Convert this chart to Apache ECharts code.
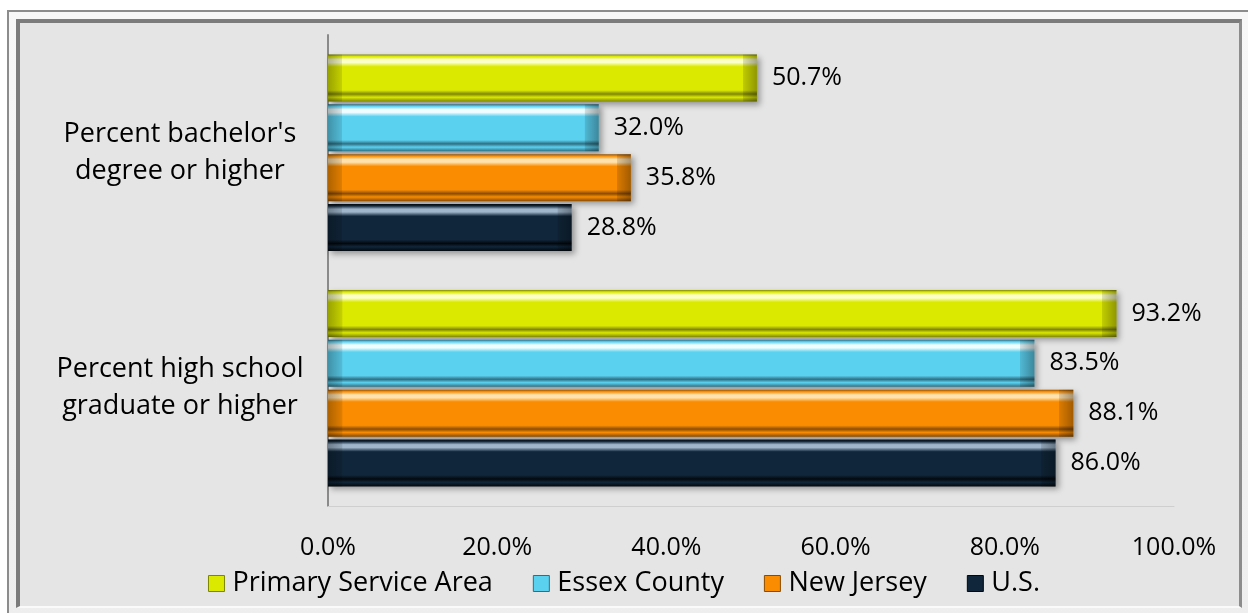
<!DOCTYPE html>
<html>
<head>
<meta charset="utf-8">
<script src="https://cdn.jsdelivr.net/npm/echarts@6/dist/echarts.min.js"></script>
<style>
  html, body { margin: 0; padding: 0; background: #fff; }
  .frameOuter {
    position: absolute; left: 7px; top: 10px; width: 1250px; height: 610px;
    box-sizing: border-box;
    border-left: 2px solid #8c8c8c; border-top: 2px solid #8c8c8c;
    background: linear-gradient(#f7f7f7, #eeeeee);
  }
  .frameInner {
    position: absolute; left: 16px; top: 19px; width: 1226px; height: 589px;
    box-sizing: border-box;
    border-left: 4px solid #7c7c7c; border-top: 4px solid #7c7c7c;
    border-right: 3px solid #8c8c8c; border-bottom: 2px solid #fafafa;
    background: #e5e5e5;
  }
  .chartContainer { position: absolute; left: 0; top: 0; width: 1248px; height: 613px; }
</style>
</head>
<body>
<div class="frameOuter"></div>
<div class="frameInner"></div>
<div class="chartContainer" id="educationChart"></div>
<script>
// categories bottom -> top (category axis runs upward)
const categories = [
  "Percent high school\ngraduate or higher",
  "Percent bachelor's\ndegree or higher",
];
const seriesNames = ["Primary Service Area", "Essex County", "New Jersey", "U.S."];
const primaryServiceArea = [93.2, 50.7];
const essexCounty = [83.5, 32.0];
const newJersey = [88.1, 35.8];
const unitedStates = [86.0, 28.8];
const xTicks = [0, 20, 40, 60, 80, 100];

const FONT = "Open Sans";
const GRID = { left: 328, right: 74, top: 35, bottom: 107 };
const plotWidth = 1248 - GRID.left - GRID.right;

// base, highlight, dark edge
const palette = [
  ["#dbe800", "#fbffc8", "#7f8700"],
  ["#5bd1f0", "#effdff", "#2f6f82"],
  ["#f98c00", "#ffe2b0", "#8a4c00"],
  ["#10263a", "#9fb6cb", "#03080d"],
];

function bevel(c) {
  return new echarts.graphic.LinearGradient(0, 0, 0, 1, [
    { offset: 0, color: c[2] },
    { offset: 0.04, color: c[0] },
    { offset: 0.11, color: c[1] },
    { offset: 0.17, color: c[1] },
    { offset: 0.26, color: c[0] },
    { offset: 0.76, color: c[0] },
    { offset: 0.84, color: c[2] },
    { offset: 0.91, color: c[0] },
    { offset: 1, color: c[2] },
  ]);
}

// darkened bevel at both ends of a bar, ~14px wide
function endShade(v) {
  let e = Math.min(0.45, 14 / ((v / 100) * plotWidth));
  return new echarts.graphic.LinearGradient(0, 0, 1, 0, [
    { offset: 0, color: "rgba(0,0,0,0.30)" },
    { offset: e, color: "rgba(0,0,0,0.10)" },
    { offset: e + 0.001, color: "rgba(0,0,0,0)" },
    { offset: 1 - e - 0.001, color: "rgba(0,0,0,0)" },
    { offset: 1 - e, color: "rgba(0,0,0,0.12)" },
    { offset: 1, color: "rgba(0,0,0,0.35)" },
  ]);
}

const dataSets = [primaryServiceArea, essexCounty, newJersey, unitedStates];

const mainSeries = dataSets.map((d, i) => ({
  name: seriesNames[i],
  type: "bar",
  data: d,
  barWidth: 47,
  barGap: "6%",
  itemStyle: {
    color: bevel(palette[i]),
    shadowColor: "rgba(0,0,0,0.35)",
    shadowBlur: 6,
    shadowOffsetX: 3,
    shadowOffsetY: 3,
  },
  label: {
    show: true,
    position: "right",
    distance: 15,
    color: "#000",
    fontSize: 25,
    fontFamily: FONT,
    formatter: (p) => p.value.toFixed(1) + "%",
  },
}));

const shadeSeries = dataSets.map((d, i) => ({
  name: "shade" + i,
  type: "bar",
  yAxisIndex: 1,
  silent: true,
  barWidth: 47,
  barGap: "6%",
  data: d.map((v) => ({ value: v, itemStyle: { color: endShade(v) } })),
}));

let chart = echarts.init(document.getElementById("educationChart"));
chart.setOption({
  animation: false,
  textStyle: { fontFamily: FONT },
  grid: Object.assign({ containLabel: false }, GRID),
  legend: {
    top: 565,
    left: "center",
    itemWidth: 16,
    itemHeight: 16,
    itemGap: 40,
    icon: "rect",
    textStyle: { fontSize: 27, color: "#000", fontFamily: FONT, padding: [0, 0, 0, 3] },
    data: seriesNames.map((n, i) => ({
      name: n,
      itemStyle: { color: palette[i][0], borderColor: palette[i][2], borderWidth: 1 },
    })),
  },
  xAxis: {
    type: "value",
    min: 0,
    max: 100,
    interval: 20,
    splitLine: { show: false },
    axisLine: { show: true, lineStyle: { color: "#cfcfcf", width: 1 } },
    axisTick: { show: false },
    axisLabel: {
      color: "#000",
      fontSize: 25,
      margin: 29,
      formatter: (v) => v.toFixed(1) + "%",
    },
  },
  yAxis: [
    {
      type: "category",
      data: categories,
      axisLine: { show: true, lineStyle: { color: "#8a8a8a", width: 2 } },
      axisTick: { show: false },
      axisLabel: {
        color: "#000",
        fontSize: 27,
        lineHeight: 37,
        align: "center",
        margin: 148,
      },
    },
    {
      type: "category",
      data: categories,
      position: "left",
      show: false,
    },
  ],
  series: mainSeries.concat(shadeSeries),
});
</script>
</body>
</html>
